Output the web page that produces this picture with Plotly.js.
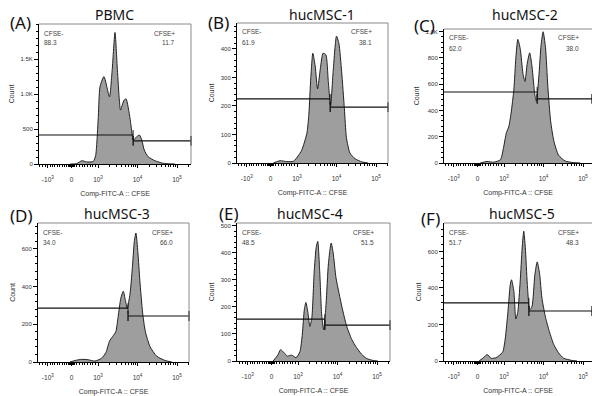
<!DOCTYPE html>
<html><head><meta charset="utf-8">
<script src="https://cdn.plot.ly/plotly-3.0.1.min.js"></script>
<style>html,body{margin:0;padding:0;background:#fff;}#chart{width:592px;height:396px;}</style>
</head><body><div id="chart"></div>
<script>
// ---------------- data ----------------
const panelLetters = ['(A)','(B)','(C)','(D)','(E)','(F)'];
const sampleNames = ['PBMC','hucMSC-1','hucMSC-2','hucMSC-3','hucMSC-4','hucMSC-5'];
const cfseNegPct = ['88.3','61.9','62.0','34.0','48.5','51.7'];
const cfsePosPct = ['11.7','38.1','38.0','66.0','51.5','48.3'];

// biexponential display positions of the x ticks (-10^3, 0, 10^3, 10^4, 10^5)
const xTickPos = [1.73, 2.33, 3, 4, 5];
const xTickLabels = ['-10<sup>3</sup>','0','10<sup>3</sup>','10<sup>4</sup>','10<sup>5</sup>'];

const yTickValsA = [0,500,1000,1500];   const yTickTextA = ['0','500','1.0K','1.5K'];
const yTickValsB = [0,100,200,300,400]; const yTickTextB = ['0','100','200','300','400'];
const yTickValsC = [0,200,400,600,800,1000]; const yTickTextC = ['0','200','400','600','800','1.0K'];
const yTickValsD = [0,200,400,600];     const yTickTextD = ['0','200','400','600'];
const yTickValsE = [0,100,200,300,400,500]; const yTickTextE = ['0','100','200','300','400','500'];
const yTickValsF = [0,200,400,600];     const yTickTextF = ['0','200','400','600'];

// histograms (x = display position on CFSE axis, y = count)
const posA = [2.30,2.46,2.59,2.71,2.88,2.94,2.97,3.01,3.05,3.15,3.29,3.36,3.43,3.49,3.54,3.57,3.66,3.71,3.81,3.86,3.89,3.98,4.05,4.11,4.17,4.27,4.44,4.65,4.82,4.95];
const cntA = [0,5,47,30,35,120,300,700,1100,1250,960,1350,1880,1350,914,770,914,930,655,440,340,390,414,340,200,105,47,10,2,0];

const posB = [2.40,2.57,2.74,2.91,3.03,3.12,3.25,3.30,3.35,3.40,3.46,3.52,3.59,3.66,3.73,3.79,3.85,3.92,4.00,4.06,4.13,4.20,4.25,4.34,4.47,4.64,4.80];
const cntB = [0,8,5,6,25,45,104,170,300,385,340,260,330,385,380,290,200,330,445,420,320,190,90,35,15,4,0];

const posC = [2.40,2.57,2.74,2.91,2.99,3.06,3.12,3.18,3.25,3.30,3.35,3.41,3.48,3.53,3.59,3.65,3.71,3.78,3.82,3.88,3.94,3.99,4.05,4.11,4.18,4.26,4.38,4.55,4.76,4.93];
const cntC = [0,12,6,25,120,230,275,380,560,800,940,870,680,620,760,838,730,520,470,650,900,998,880,580,320,170,60,15,3,0];

const posD = [2.29,2.42,2.59,2.75,2.92,3.09,3.20,3.29,3.37,3.45,3.51,3.58,3.64,3.69,3.74,3.81,3.87,3.92,3.96,4.01,4.06,4.13,4.20,4.32,4.49,4.70,4.87];
const cntD = [0,8,14,12,5,20,50,110,135,160,240,340,375,330,285,360,500,640,684,580,430,260,160,80,30,8,0];

const posE = [2.37,2.49,2.56,2.65,2.73,2.84,2.95,3.05,3.11,3.16,3.20,3.25,3.30,3.35,3.41,3.46,3.50,3.55,3.60,3.65,3.71,3.77,3.84,3.89,3.96,4.04,4.12,4.23,4.36,4.48,4.61,4.73,4.90,5.02];
const cntE = [0,22,42,30,18,22,12,35,100,190,217,180,128,160,330,420,443,330,170,116,210,360,437,400,310,250,195,130,80,50,25,10,2,0];

const posF = [2.37,2.49,2.57,2.68,2.80,2.88,2.97,3.03,3.10,3.16,3.19,3.25,3.30,3.35,3.41,3.46,3.50,3.54,3.59,3.65,3.71,3.78,3.84,3.90,3.96,4.05,4.15,4.26,4.38,4.51,4.72,4.85];
const cntF = [0,20,35,15,18,30,50,120,270,420,445,380,230,270,437,620,711,620,420,280,300,470,543,480,345,240,160,90,45,15,3,0];

// CFSE gates: split position and heights of the CFSE- / CFSE+ markers
const gateSplitPos = [3.89,3.84,3.84,3.76,3.68,3.63];
const gateNegCount = [414,225,540,286,155,318];
const gatePosCount = [329,196,487,244,133,274];

// ---------------- layout helpers ----------------
const W = 592, H = 396, PXU = 39.5;
const PX = x => x / W, PY = y => 1 - y / H;
const boxes = [
  {l:39, r:191, t:24, b:164, x3:98,  ymax:2000, right:true},
  {l:237,r:388, t:23, b:163, x3:297, ymax:491,  right:true},
  {l:444,r:592, t:29, b:163, x3:504, ymax:1019, right:false},
  {l:38, r:189, t:223,b:362, x3:98,  ymax:737,  right:true},
  {l:237,r:390, t:223,b:361, x3:298, ymax:511,  right:true},
  {l:444,r:592, t:223,b:361, x3:504, ymax:756,  right:false}
];
const hist = [[posA,cntA],[posB,cntB],[posC,cntC],[posD,cntD],[posE,cntE],[posF,cntF]];
const yTV = [yTickValsA,yTickValsB,yTickValsC,yTickValsD,yTickValsE,yTickValsF];
const yTT = [yTickTextA,yTickTextB,yTickTextC,yTickTextD,yTickTextE,yTickTextF];
const yMinor = [100,20,40,40,20,40];
const letterPos = [[20,22],[218,22],[424,26],[21,215],[229,213],[430,219]];
const titlePos = [[114,15],[322,15],[525,15],[117,213],[310,213],[522,213]];

// minor tick positions along the biexponential axis
const minorX = [];
for (let k=1;k<=3;k++) minorX.push(1.73 - k*0.07);
for (let k=1;k<9;k++) minorX.push(1.73 + k*0.06);
for (let k=1;k<10;k++) minorX.push(2.33 + k*0.067);
for (let v=2.26; v<=2.40; v+=0.012) minorX.push(v);
[3,4].forEach(d => { for (let k=2;k<=9;k++) minorX.push(d + Math.log10(k)); });
[2,3].forEach(k => minorX.push(5 + Math.log10(k)));

const traces = [], annotations = [], shapes = [];
const layout = {width:W, height:H, margin:{l:0,r:0,t:0,b:0}, showlegend:false,
  paper_bgcolor:'#fff', plot_bgcolor:'#fff', annotations, shapes,
  font:{family:'Liberation Sans, Arial, sans-serif', color:'#222'}};

boxes.forEach((bx, i) => {
  const n = i + 1, xa = 'x' + (n>1?n:''), ya = 'y' + (n>1?n:'');
  const xr = [3 - (bx.x3 - bx.l)/PXU, 3 + (bx.r - bx.x3)/PXU];
  layout['xaxis' + (n>1?n:'')] = {
    domain:[PX(bx.l), PX(bx.r)], range:xr, anchor:ya, fixedrange:true,
    tickmode:'array', tickvals:xTickPos, ticktext:xTickLabels,
    ticks:'outside', ticklen:3, tickwidth:1, tickcolor:'#000',
    showline:true, linecolor:'#000', linewidth:1, showgrid:false, zeroline:false,
    tickfont:{size:6.5, color:'#333'}, ticklabelstandoff:6,
    minor:{tickmode:'array', tickvals:minorX, ticks:'outside', ticklen:2, tickcolor:'#000', showgrid:false},
    title:{text:'Comp-FITC-A :: CFSE', font:{size:7, color:'#333'}, standoff:9}
  };
  layout['yaxis' + (n>1?n:'')] = {
    domain:[PY(bx.b), PY(bx.t)], range:[0, bx.ymax], anchor:xa, fixedrange:true,
    tickmode:'array', tickvals:yTV[i], ticktext:yTT[i],
    ticks:'outside', ticklen:4, tickwidth:1, tickcolor:'#000',
    showline:true, linecolor:'#000', linewidth:1, showgrid:false, zeroline:false,
    tickfont:{size:6, color:'#333'},
    minor:{dtick:yMinor[i], tick0:0, ticks:'outside', ticklen:2, tickcolor:'#000', showgrid:false},
    title:{text:'Count', font:{size:7, color:'#333'}, standoff:5}
  };
  // histogram
  traces.push({type:'scatter', mode:'lines', x:hist[i][0], y:hist[i][1], xaxis:xa, yaxis:ya,
    fill:'tozeroy', fillcolor:'rgb(158,158,158)', line:{color:'#222', width:1, shape:'spline', smoothing:0.6},
    hoverinfo:'skip'});
  // gates
  traces.push({type:'scatter', mode:'lines+markers', x:[xr[0], gateSplitPos[i]], y:[gateNegCount[i], gateNegCount[i]],
    xaxis:xa, yaxis:ya, cliponaxis:false, line:{color:'#111', width:1.2},
    marker:{symbol:'line-ns-open', size:[0,7], color:'#111', line:{width:1.3, color:'#111'}}, hoverinfo:'skip'});
  traces.push({type:'scatter', mode:'lines+markers', x:[gateSplitPos[i], xr[1]], y:[gatePosCount[i], gatePosCount[i]],
    xaxis:xa, yaxis:ya, cliponaxis:false, line:{color:'#111', width:1.2},
    marker:{symbol:'line-ns-open', size:7, color:'#111', line:{width:1.3, color:'#111'}}, hoverinfo:'skip'});
  // frame (top and right, grey)
  shapes.push({type:'line', xref:'paper', yref:'paper', x0:PX(bx.l), x1:PX(bx.r), y0:PY(bx.t), y1:PY(bx.t), line:{color:'#8a8a8a', width:1}});
  if (bx.right) shapes.push({type:'line', xref:'paper', yref:'paper', x0:PX(bx.r), x1:PX(bx.r), y0:PY(bx.t), y1:PY(bx.b), line:{color:'#8a8a8a', width:1}});
  // texts
  annotations.push({xref:'paper', yref:'paper', x:PX(letterPos[i][0]), y:PY(letterPos[i][1]), text:panelLetters[i],
    showarrow:false, xanchor:'center', yanchor:'middle', font:{family:'Noto Sans, sans-serif', size:17, color:'#111'}});
  annotations.push({xref:'paper', yref:'paper', x:PX(titlePos[i][0]), y:PY(titlePos[i][1]), text:sampleNames[i],
    showarrow:false, xanchor:'center', yanchor:'middle', font:{family:'Noto Sans, sans-serif', size:14, color:'#111'}});
  const negX = bx.l + 3, posX = bx.right ? bx.r - 14 : 581;
  const ty = bx.t + 9;
  annotations.push({xref:'paper', yref:'paper', x:PX(negX), y:PY(ty), text:'CFSE-', showarrow:false, xanchor:'left', yanchor:'middle', font:{size:6.5, color:'#444'}});
  annotations.push({xref:'paper', yref:'paper', x:PX(negX), y:PY(ty+10), text:cfseNegPct[i], showarrow:false, xanchor:'left', yanchor:'middle', font:{size:6.5, color:'#444'}});
  annotations.push({xref:'paper', yref:'paper', x:PX(posX), y:PY(ty), text:'CFSE+', showarrow:false, xanchor:'right', yanchor:'middle', font:{size:6.5, color:'#444'}});
  annotations.push({xref:'paper', yref:'paper', x:PX(posX), y:PY(ty+10), text:cfsePosPct[i], showarrow:false, xanchor:'right', yanchor:'middle', font:{size:6.5, color:'#444'}});
});

Plotly.newPlot('chart', traces, layout, {staticPlot:true, displayModeBar:false});
</script></body></html>
